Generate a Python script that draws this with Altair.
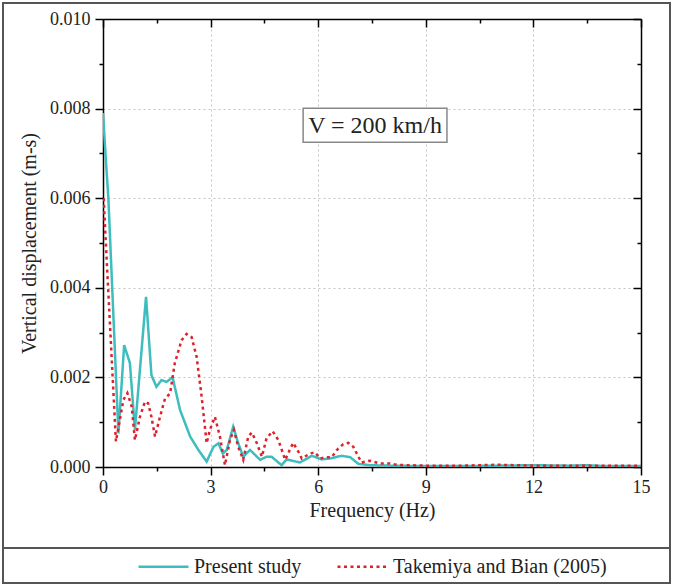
import altair as alt
import pandas as pd

# ---------------- data ----------------
series_names = ["Present study", "Takemiya and Bian (2005)"]
series_colors = ["#3DBDBD", "#E0202A"]

present_f = [0.0, 0.08, 0.15, 0.43, 0.59, 0.75, 0.89, 1.2, 1.35, 1.49, 1.63, 1.77, 1.94,
             2.15, 2.43, 2.66, 2.89, 3.08, 3.22, 3.34, 3.45, 3.63, 3.77, 3.91, 4.1, 4.38,
             4.56, 4.7, 4.98, 5.12, 5.49, 5.82, 6.1, 6.33, 6.65, 6.89, 7.12, 7.44, 8.0,
             9.0, 10.0, 11.0, 12.0, 13.0, 13.5, 14.0, 15.0]
present_v = [0.0079, 0.00685, 0.006, 0.00075, 0.00272, 0.00232, 0.00083, 0.0038, 0.00205,
             0.00179, 0.00194, 0.0019, 0.002, 0.00127, 0.00068, 0.00038, 0.00012, 0.00045,
             0.00053, 0.0003, 0.00038, 0.0009, 0.00053, 0.00023, 0.00038, 0.00016, 0.00023,
             0.00023, 0.00004, 0.00017, 0.0001, 0.00025, 0.00017, 0.00019, 0.00025, 0.00022,
             0.00007, 0.00004, 0.00003, 0.00002, 0.00002, 0.00003, 0.00004, 0.00003, 0.00004,
             0.00002, 0.00002]

tak_f = [0.02, 0.06, 0.36, 0.57, 0.68, 0.8, 0.89, 1.03, 1.17, 1.26, 1.35, 1.45, 1.59, 1.73,
         1.87, 2.0, 2.19, 2.33, 2.47, 2.61, 2.75, 2.89, 2.98, 3.12, 3.26, 3.4, 3.54, 3.65,
         3.77, 3.91, 4.05, 4.15, 4.29, 4.43, 4.56, 4.73, 4.89, 5.08, 5.3, 5.45, 5.54, 5.77,
         5.91, 6.05, 6.24, 6.38, 6.52, 6.7, 6.84, 6.98, 7.12, 7.21, 7.44, 7.72, 8.0, 8.2,
         8.5, 9.0, 10.0, 11.0, 11.5, 12.0, 13.0, 14.0, 15.0]
tak_v = [0.006, 0.0053, 0.00057, 0.0015, 0.00165, 0.00135, 0.0006, 0.00112, 0.00146, 0.00142,
         0.00112, 0.00068, 0.00112, 0.00153, 0.00164, 0.00231, 0.00283, 0.00297, 0.0029,
         0.00246, 0.00157, 0.00053, 0.00083, 0.00112, 0.00068, 0.00004, 0.0006, 0.00083,
         0.00045, 0.00016, 0.00068, 0.00077, 0.00053, 0.00023, 0.00064, 0.0008, 0.0006,
         0.00016, 0.00054, 0.00034, 0.00019, 0.0003, 0.00033, 0.00019, 0.00022, 0.00022,
         0.00038, 0.00051, 0.00054, 0.00045, 0.00023, 0.0001, 0.00014, 0.00008, 0.00008,
         0.00005, 0.00004, 0.00003, 0.00003, 0.00005, 0.00004, 0.00003, 0.00003, 0.00003,
         0.00003]

annotation_text = "V = 200 km/h"

x_tick_values = [i * 1.5 for i in range(11)]
y_tick_values = [round(i * 0.001, 3) for i in range(11)]

# ---------------- build tables ----------------
df = pd.concat([
    pd.DataFrame({"f": present_f, "v": present_v, "series": series_names[0], "order": range(len(present_f))}),
    pd.DataFrame({"f": tak_f, "v": tak_v, "series": series_names[1], "order": range(len(tak_f))}),
], ignore_index=True)

FONT = "Liberation Serif"
W, H = 538, 448

xs = alt.Scale(domain=[0, 15], nice=False, zero=False)
ys = alt.Scale(domain=[0, 0.01], nice=False, zero=False)

x_major = "datum.value % 3 === 0"
y_major = "round(datum.value * 1000) % 2 === 0"

x_axis = alt.Axis(
    values=x_tick_values, title="Frequency (Hz)", labelFlush=False,
    labelExpr=f"{x_major} ? format(datum.value, 'd') : ''",
    tickSize={"condition": {"test": x_major, "value": 8}, "value": 4},
    grid=True, gridDash=[2, 3], gridColor="#c4c4c4", gridWidth=1,
    gridOpacity={"condition": {"test": f"{x_major} && datum.value > 0 && datum.value < 15", "value": 1}, "value": 0},
    domainColor="#000", domainWidth=1.5, tickColor="#000", tickWidth=1.5,
    labelFont=FONT, labelFontSize=18, labelColor="#222", labelPadding=3,
    titleFont=FONT, titleFontSize=20, titleFontWeight="normal", titleColor="#222", titlePadding=4,
)
y_axis = alt.Axis(
    values=y_tick_values, title="Vertical displacement (m-s)", labelFlush=False,
    labelExpr=f"{y_major} ? format(datum.value, '.3f') : ''",
    tickSize={"condition": {"test": y_major, "value": 8}, "value": 4},
    grid=True, gridDash=[2, 3], gridColor="#c4c4c4", gridWidth=1,
    gridOpacity={"condition": {"test": f"{y_major} && datum.value > 0 && datum.value < 0.0099", "value": 1}, "value": 0},
    domainColor="#000", domainWidth=1.5, tickColor="#000", tickWidth=1.5,
    labelFont=FONT, labelFontSize=18, labelColor="#222", labelPadding=5,
    titleFont=FONT, titleFontSize=20, titleFontWeight="normal", titleColor="#222", titlePadding=10,
)

legend_kw = dict(
    title=None, orient="none", direction="horizontal",
    legendX=34, legendY=521,
    symbolType="stroke", symbolSize=2500, symbolStrokeWidth=2.5,
    labelFont=FONT, labelFontSize=20, labelColor="#222", labelLimit=400,
    labelOffset=4, columnPadding=30,
)

lines = alt.Chart(df).mark_line(strokeWidth=2.5, clip=True).encode(
    x=alt.X("f:Q", scale=xs, axis=x_axis),
    y=alt.Y("v:Q", scale=ys, axis=y_axis),
    order="order:Q",
    color=alt.Color("series:N", scale=alt.Scale(domain=series_names, range=series_colors),
                    legend=alt.Legend(**legend_kw)),
    strokeDash=alt.StrokeDash("series:N", scale=alt.Scale(domain=series_names, range=[[1, 0], [3, 3.5]]),
                              legend=alt.Legend(**legend_kw)),
)

# mirrored top / right axes (ticks pointing inward)
mirror = alt.Chart(pd.DataFrame({"f": [0, 15], "v": [0, 0.01]})).mark_point(opacity=0).encode(
    x=alt.X("f:Q", scale=xs, axis=alt.Axis(
        orient="top", values=x_tick_values, labels=False, title=None, grid=False,
        tickSize={"condition": {"test": x_major, "value": -8}, "value": -4},
        domainColor="#000", domainWidth=1.5, tickColor="#000", tickWidth=1.5)),
    y=alt.Y("v:Q", scale=ys, axis=alt.Axis(
        orient="right", values=y_tick_values, labels=False, title=None, grid=False,
        tickSize={"condition": {"test": y_major, "value": -8}, "value": -4},
        domainColor="#000", domainWidth=1.5, tickColor="#000", tickWidth=1.5)),
)

# annotation box
box_x0, box_x1, box_y0, box_y1 = 5.58, 9.59, 0.00725, 0.00801
box_df = pd.DataFrame({"x0": [box_x0], "x1": [box_x1], "y0": [box_y0], "y1": [box_y1],
                       "xc": [(box_x0 + box_x1) / 2], "yc": [(box_y0 + box_y1) / 2],
                       "label": [annotation_text]})
box = alt.Chart(box_df).mark_rect(fill="white", stroke="#888", strokeWidth=1.5).encode(
    x=alt.X("x0:Q", scale=xs, axis=None), x2="x1:Q",
    y=alt.Y("y0:Q", scale=ys, axis=None), y2="y1:Q")
box_text = alt.Chart(box_df).mark_text(font=FONT, fontSize=24, color="#222", dy=1).encode(
    x=alt.X("xc:Q", scale=xs, axis=None), y=alt.Y("yc:Q", scale=ys, axis=None), text="label:N")

# outer frame and legend separator
one = pd.DataFrame({"a": [0]})
frame = alt.Chart(one).mark_rect(fill="transparent", stroke="#555", strokeWidth=2).encode(
    x=alt.value(-100), x2=alt.value(567), y=alt.value(-16), y2=alt.value(564))
sep = alt.Chart(one).mark_rule(stroke="#555", strokeWidth=2).encode(
    x=alt.value(-100), x2=alt.value(567), y=alt.value(529))

chart = alt.layer(lines, mirror, box, box_text, frame, sep).resolve_axis(
    x="independent", y="independent"
).properties(
    width=W, height=H,
    autosize=alt.AutoSizeParams(type="none"),
    padding={"left": 103, "top": 19, "right": 33, "bottom": 119},
    background="white",
).configure_view(stroke=None)

chart.save("out.html", embed_options={"renderer": "svg", "actions": False})
